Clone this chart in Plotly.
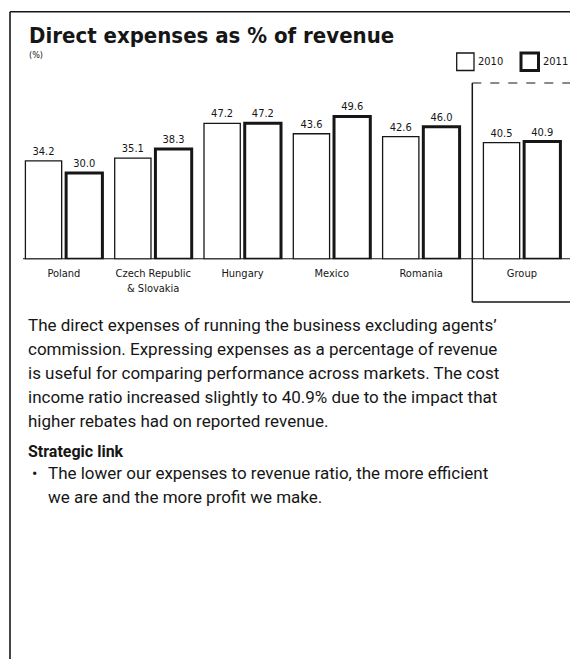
import plotly.graph_objects as go

# ---- data ----
markets = ["Poland", "Czech Republic & Slovakia", "Hungary", "Mexico", "Romania"]
market_ticks = ["Poland", "Czech Republic<br>& Slovakia", "Hungary", "Mexico", "Romania"]
group_cat = ["Group"]
years = ["2010", "2011"]
markets_2010 = [34.2, 35.1, 47.2, 43.6, 42.6]
markets_2011 = [30.0, 38.3, 47.2, 49.6, 46.0]
group_2010 = [40.5]
group_2011 = [40.9]

title_text = "Direct expenses as % of revenue"
unit_text = "(%)"
para_lines = [
    "The direct expenses of running the business excluding agents’",
    "commission. Expressing expenses as a percentage of revenue",
    "is useful for comparing performance across markets. The cost",
    "income ratio increased slightly to 40.9% due to the impact that",
    "higher rebates had on reported revenue.",
]
link_title = "Strategic link"
bullet_lines = [
    "The lower our expenses to revenue ratio, the more efficient",
    "we are and the more profit we make.",
]

# ---- layout helpers (page pixel coords; the page body has an 8px margin) ----
PAGE_W, PAGE_H = 578, 659
OFF = 8
W, H = PAGE_W - OFF, PAGE_H - OFF
def xp(px):
    return (px - OFF) / W
def yp(py):
    return 1 - (py - OFF) / H

BASE_PX = 259.3
TOP_PX = 100.0
PX_PER_UNIT = 2.88
YMAX = (BASE_PX - TOP_PX) / PX_PER_UNIT

FONT = "Roboto, 'Liberation Sans', sans-serif"
NARROW = "'DejaVu Sans Condensed', Roboto, sans-serif"
INK = "#161616"

thin = dict(color=INK, width=1.3)
thick = dict(color=INK, width=3.0)

fig = go.Figure()
for vals, cats, xa in [
    ((markets_2010, markets_2011), markets, "x"),
    ((group_2010, group_2011), group_cat, "x2"),
]:
    for i, (yr, v) in enumerate(zip(years, vals)):
        fig.add_trace(go.Bar(
            x=cats, y=v, name=yr, xaxis=xa, yaxis="y",
            marker=dict(color="white", line=thin if i == 0 else thick),
            text=[f"{a:.1f}" for a in v], textposition="outside",
            textfont=dict(family=NARROW, size=11, color=INK),
            cliponaxis=False, constraintext="none", showlegend=False,
            offsetgroup=str(i),
        ))

fig.update_layout(
    width=W, height=H, margin=dict(l=0, r=0, t=0, b=0),
    paper_bgcolor="white", plot_bgcolor="white",
    barmode="group", bargap=0.088, bargroupgap=0.109,
    xaxis=dict(domain=[xp(19.25), xp(19.25 + 5 * 89.3)], anchor="y",
               tickmode="array", tickvals=markets, ticktext=market_ticks,
               tickfont=dict(family=NARROW, size=11, color=INK),
               showgrid=False, zeroline=False, showline=False, ticks="",
               ticklabelstandoff=6, fixedrange=True),
    xaxis2=dict(domain=[xp(477.25), xp(566.55)], anchor="y",
                tickfont=dict(family=NARROW, size=11, color=INK),
                showgrid=False, zeroline=False, showline=False, ticks="",
                ticklabelstandoff=6, fixedrange=True),
    yaxis=dict(domain=[yp(BASE_PX), yp(TOP_PX)], range=[0, YMAX],
               visible=False, showgrid=False, zeroline=False, fixedrange=True),
    showlegend=False,
)

shapes = []
# outer frame
shapes.append(dict(type="line", xref="paper", yref="paper", x0=xp(10), x1=xp(578), y0=yp(11.7), y1=yp(11.7), line=dict(color=INK, width=1.6)))
shapes.append(dict(type="line", xref="paper", yref="paper", x0=xp(10), x1=xp(10), y0=yp(11.7), y1=yp(659), line=dict(color=INK, width=1.6)))
# baseline
shapes.append(dict(type="line", xref="paper", yref="y", x0=xp(23), x1=xp(572), y0=0, y1=0, line=dict(color=INK, width=2.2)))
# group box
gl, gr, gt, gb = 472.3, 571.7, 83, 302
shapes.append(dict(type="line", xref="paper", yref="paper", x0=xp(gl), x1=xp(gl), y0=yp(gt), y1=yp(gb), line=dict(color=INK, width=1.5)))
shapes.append(dict(type="line", xref="paper", yref="paper", x0=xp(gr), x1=xp(gr), y0=yp(gt), y1=yp(gb), line=dict(color=INK, width=1.5)))
shapes.append(dict(type="line", xref="paper", yref="paper", x0=xp(gl), x1=xp(gr), y0=yp(gb), y1=yp(gb), line=dict(color=INK, width=1.5)))
shapes.append(dict(type="line", xref="paper", yref="paper", x0=xp(gl), x1=xp(gr), y0=yp(gt), y1=yp(gt), line=dict(color=INK, width=1.2, dash="dash")))
# legend boxes
leg_boxes = [(456.7, 474.0, thin), (521.0, 538.5, thick)]
for (x0, x1, ln) in leg_boxes:
    shapes.append(dict(type="rect", xref="paper", yref="paper", x0=xp(x0), x1=xp(x1), y0=yp(53), y1=yp(70.5), line=ln, fillcolor="white"))
fig.update_layout(shapes=shapes)

ann = []
ann.append(dict(text=f"<b>{title_text}</b>", x=xp(27), y=yp(35.5), xref="paper", yref="paper", xanchor="left", yanchor="middle", showarrow=False, font=dict(family=NARROW, size=22, color=INK)))
ann.append(dict(text=unit_text, x=xp(27), y=yp(55), xref="paper", yref="paper", xanchor="left", yanchor="middle", showarrow=False, font=dict(family=NARROW, size=9, color=INK)))
for (x0, x1, ln), yr in zip(leg_boxes, years):
    ann.append(dict(text=yr, x=xp(x1 + 2), y=yp(62), xref="paper", yref="paper", xanchor="left", yanchor="middle", showarrow=False, font=dict(family=NARROW, size=11, color=INK)))
for k, line in enumerate(para_lines):
    ann.append(dict(text=line, x=xp(26), y=yp(325 + 24 * k), xref="paper", yref="paper", xanchor="left", yanchor="middle", showarrow=False, font=dict(family=FONT, size=17, color=INK)))
ann.append(dict(text=f"<b>{link_title}</b>", x=xp(26), y=yp(451), xref="paper", yref="paper", xanchor="left", yanchor="middle", showarrow=False, font=dict(family=FONT, size=16, color=INK)))
ann.append(dict(text="•", x=xp(30), y=yp(473), xref="paper", yref="paper", xanchor="left", yanchor="middle", showarrow=False, font=dict(family=FONT, size=16, color=INK)))
for k, line in enumerate(bullet_lines):
    ann.append(dict(text=line, x=xp(46), y=yp(473 + 24 * k), xref="paper", yref="paper", xanchor="left", yanchor="middle", showarrow=False, font=dict(family=FONT, size=17, color=INK)))
fig.update_layout(annotations=ann)

fig.write_html("out.html", config={"displayModeBar": False})
